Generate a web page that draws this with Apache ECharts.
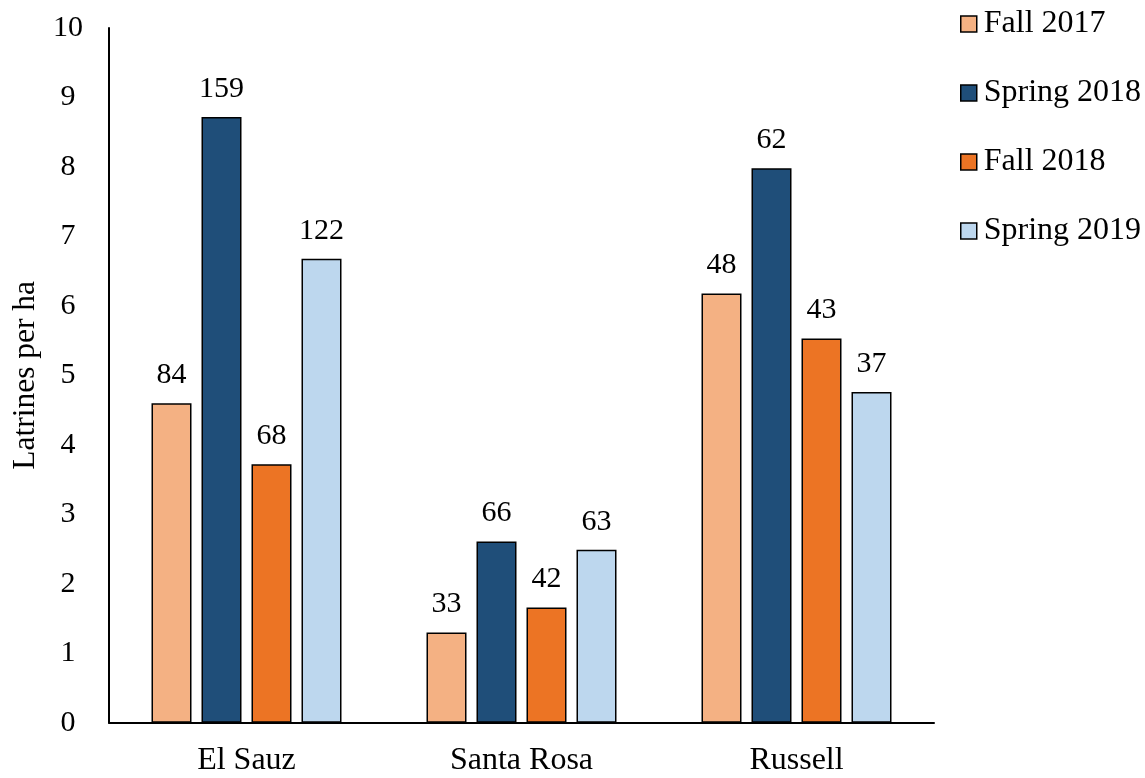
<!DOCTYPE html>
<html>
<head>
<meta charset="utf-8">
<script src="https://cdn.jsdelivr.net/npm/echarts@6/dist/echarts.min.js"></script>
<style>html,body{margin:0;padding:0;background:#fff}#c{width:1145px;height:778px}</style>
</head>
<body>
<div id="c"></div>
<script>
const categories = ['El Sauz', 'Santa Rosa', 'Russell'];
const seriesNames = ['Fall 2017', 'Spring 2018', 'Fall 2018', 'Spring 2019'];
const fall2017 = [4.60, 1.30, 6.18];
const spring2018 = [8.72, 2.61, 7.98];
const fall2018 = [3.72, 1.66, 5.53];
const spring2019 = [6.68, 2.49, 4.76];
const countsFall2017 = [84, 33, 48];
const countsSpring2018 = [159, 66, 62];
const countsFall2018 = [68, 42, 43];
const countsSpring2019 = [122, 63, 37];
const yTicks = [0, 1, 2, 3, 4, 5, 6, 7, 8, 9, 10];

const colors = ['#F4B183', '#1F4E79', '#EC7424', '#BDD7EE'];
const values = [fall2017, spring2018, fall2018, spring2019];
const counts = [countsFall2017, countsSpring2018, countsFall2018, countsSpring2019];
const font = '"Liberation Serif", "Times New Roman", serif';

const chart = echarts.init(document.getElementById('c'), null, {renderer: 'canvas'});
chart.setOption({
  animation: false,
  backgroundColor: '#fff',
  textStyle: {fontFamily: font},
  grid: {left: 109, right: 211, top: 28, bottom: 55.3},
  legend: {
    orient: 'vertical',
    left: 960,
    top: 8,
    padding: 0,
    itemWidth: 16,
    itemHeight: 16,
    itemGap: 37,
    icon: 'rect',
    textStyle: {fontFamily: font, fontSize: 32, color: '#000', padding: [0, 0, 0, 2]},
    data: seriesNames.map((n, i) => ({name: n, itemStyle: {color: colors[i], borderColor: '#000', borderWidth: 1.5}}))
  },
  xAxis: {
    type: 'category',
    data: categories,
    axisLine: {lineStyle: {color: '#000', width: 2}},
    axisTick: {show: false},
    axisLabel: {fontFamily: font, fontSize: 32, color: '#000', margin: 22}
  },
  yAxis: {
    type: 'value',
    min: yTicks[0],
    max: yTicks[yTicks.length - 1],
    interval: 1,
    name: 'Latrines per ha',
    nameLocation: 'middle',
    nameGap: 67,
    nameTextStyle: {fontFamily: font, fontSize: 31.5, color: '#000'},
    axisLine: {show: true, lineStyle: {color: '#000', width: 2}},
    axisTick: {show: false},
    splitLine: {show: false},
    axisLabel: {fontFamily: font, fontSize: 30, color: '#000', margin: 41, align: 'center'}
  },
  series: seriesNames.map((n, i) => ({
    name: n,
    type: 'bar',
    data: values[i],
    barWidth: 40,
    barGap: '25%',
    itemStyle: {color: colors[i], borderColor: '#000', borderWidth: 1.5},
    label: {
      show: true,
      position: 'top',
      distance: 13,
      fontFamily: font,
      fontSize: 30,
      color: '#000',
      formatter: p => counts[i][p.dataIndex]
    }
  }))
});
</script>
</body>
</html>
